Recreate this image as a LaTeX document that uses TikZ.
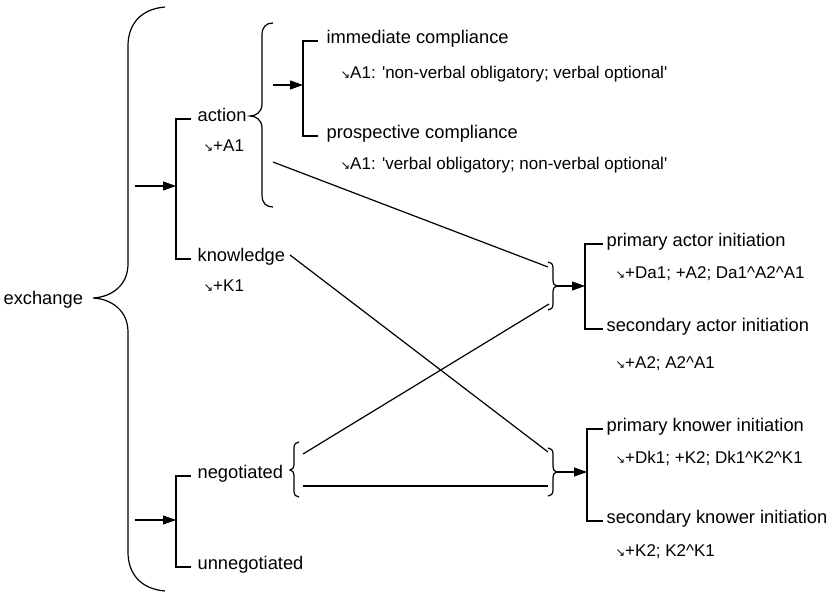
\documentclass[tikz,border=0pt]{standalone}
\usepackage{fontspec}
\setmainfont{Liberation Sans}
\newfontfamily\symfont{DejaVu Sans}
\usetikzlibrary{arrows.meta,calc}
\newcommand{\dnarr}{{\symfont\fontsize{11.5}{11.5}\selectfont ↘}}
\begin{document}
\begin{tikzpicture}[x=1pt,y=-1pt,line width=1.2pt,
  lbl/.style={anchor=mid west,inner sep=0pt,yshift=-4pt,font=\fontsize{18.3}{20}\selectfont},
  sub/.style={anchor=mid west,inner sep=0pt,yshift=-4pt,font=\fontsize{17}{19}\selectfont},
  arr/.style={-{Triangle[length=13pt,width=9pt]}}]
\useasboundingbox (0,0) rectangle (828,593);

% text nodes
\node[lbl] (exch) at (3,298) {exchange};
\node[lbl] (act) at (197,115) {action};
\node[sub] (actS) at (203,145) {\dnarr+A1};
\node[lbl] (know) at (197,255) {knowledge};
\node[sub] (knowS) at (203,285) {\dnarr+K1};
\node[lbl] (neg) at (197,472) {negotiated};
\node[lbl] (uneg) at (197,563) {unnegotiated};
\node[lbl] (imm) at (326,37) {immediate compliance};
\node[sub] (immS) at (340,72) {\dnarr A1: \textquotesingle non-verbal obligatory; verbal optional\textquotesingle};
\node[lbl] (pro) at (326,132) {prospective compliance};
\node[sub] (proS) at (340,163) {\dnarr A1: \textquotesingle verbal obligatory; non-verbal optional\textquotesingle};
\node[lbl] (pai) at (606,240) {primary actor initiation};
\node[sub] (paiS) at (615,272) {\dnarr+Da1; +A2; Da1\textasciicircum A2\textasciicircum A1};
\node[lbl] (sai) at (606,325) {secondary actor initiation};
\node[sub] (saiS) at (615,362) {\dnarr+A2; A2\textasciicircum A1};
\node[lbl] (pki) at (606,425) {primary knower initiation};
\node[sub] (pkiS) at (615,457) {\dnarr+Dk1; +K2; Dk1\textasciicircum K2\textasciicircum K1};
\node[lbl] (ski) at (606,517) {secondary knower initiation};
\node[sub] (skiS) at (615,550) {\dnarr+K2; K2\textasciicircum K1};

% big brace
\draw (165,7) .. controls (141,9) and (128,24) .. (128,46) -- (128,264)
  .. controls (128,285) and (112,297) .. (93,298)
  .. controls (112,299) and (128,311) .. (128,332) -- (128,552)
  .. controls (128,574) and (141,589) .. (165,591);

% action brace
\draw (273,23) .. controls (266,23) and (262,27) .. (262,35) -- (262,104)
  .. controls (262,112) and (256,116) .. (250,116)
  .. controls (256,116) and (262,120) .. (262,128) -- (262,195)
  .. controls (262,203) and (266,207) .. (273,207);

% negotiated brace
\draw (299,442) .. controls (296,442) and (294,444) .. (294,448) -- (294,464)
  .. controls (294,468) and (292,470) .. (290,470)
  .. controls (292,470) and (294,472) .. (294,476) -- (294,491)
  .. controls (294,495) and (296,497) .. (299,497);

% actor brace (right facing)
\draw (548,262) .. controls (551,262) and (553,264) .. (553,268) -- (553,280)
  .. controls (553,284) and (555,286) .. (557,286)
  .. controls (555,286) and (553,288) .. (553,292) -- (553,304)
  .. controls (553,308) and (551,310) .. (548,310);

% knower brace (right facing)
\draw (548,448) .. controls (551,448) and (553,450) .. (553,454) -- (553,466)
  .. controls (553,470) and (555,472) .. (557,472)
  .. controls (555,472) and (553,474) .. (553,478) -- (553,490)
  .. controls (553,494) and (551,496) .. (548,496);

% system brackets
\draw ($(act.mid west)+(-6,0)$) -| ($(know.mid west)+(-21,0)$) -- ($(know.mid west)+(-6,0)$);
\draw ($(neg.mid west)+(-6,0)$) -| ($(uneg.mid west)+(-21,0)$) -- ($(uneg.mid west)+(-6,0)$);
\draw ($(imm.mid west)+(-8,0)$) -| ($(pro.mid west)+(-23,0)$) -- ($(pro.mid west)+(-8,0)$);
\draw ($(pai.mid west)+(-3,0)$) -| ($(sai.mid west)+(-21,0)$) -- ($(sai.mid west)+(-3,0)$);
\draw ($(pki.mid west)+(-3,0)$) -| ($(ski.mid west)+(-19,0)$) -- ($(ski.mid west)+(-3,0)$);

% entry arrows
\coordinate (e1s) at (135,186); \coordinate (e1e) at (176,186);
\coordinate (e2s) at (135,520); \coordinate (e2e) at (176,520);
\coordinate (e3s) at (273,85);  \coordinate (e3e) at (303,85);
\coordinate (e4s) at (557,286); \coordinate (e4e) at (585,286);
\coordinate (e5s) at (557,472); \coordinate (e5e) at (587,472);
\draw[arr] (e1s) -- (e1e);
\draw[arr] (e2s) -- (e2e);
\draw[arr] (e3s) -- (e3e);
\draw[arr] (e4s) -- (e4e);
\draw[arr] (e5s) -- (e5e);

% crossing connectors
\coordinate (c1s) at (273,162); \coordinate (c1e) at (548,267);
\coordinate (c2s) at (290,255); \coordinate (c2e) at (548,452);
\coordinate (c3s) at (303,454); \coordinate (c3e) at (549,304);
\coordinate (c4s) at (303,486); \coordinate (c4e) at (548,486);
\draw (c1s) -- (c1e);
\draw (c2s) -- (c2e);
\draw (c3s) -- (c3e);
\draw (c4s) -- (c4e);
\end{tikzpicture}
\end{document}
